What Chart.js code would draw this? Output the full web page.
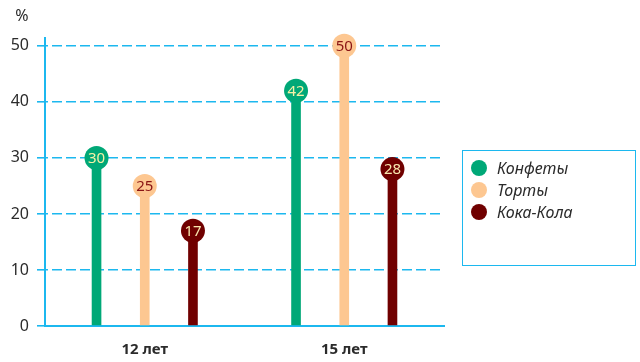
<!DOCTYPE html>
<html lang="ru">
<head>
<meta charset="utf-8">
<title>Конфеты, торты, кока-кола</title>
<script src="https://cdn.jsdelivr.net/npm/chart.js@4/dist/chart.umd.min.js"></script>
<style>
  html, body { margin: 0; padding: 0; background: #fff; }
  #wrap { position: relative; width: 640px; height: 362px; }
  #legend {
    position: absolute; left: 462px; top: 150px;
    width: 174px; height: 116px;
    border: 1.5px solid #1cb8ef;
    padding: 6px 0 0 8px; box-sizing: border-box;
    font-family: "Noto Sans", sans-serif; font-style: italic;
    font-size: 16px; color: #2b2b2b;
  }
  #legend .row { height: 22px; display: flex; align-items: center; }
  #legend .dot { width: 16px; height: 16px; border-radius: 50%; margin-right: 10px; }
</style>
</head>
<body>
<div id="wrap">
  <canvas id="chart" width="640" height="362"></canvas>
  <div id="legend"></div>
</div>
<script>
  const categories = ['12 лет', '15 лет'];
  const seriesNames = ['Конфеты', 'Торты', 'Кока-Кола'];
  const candyValues = [30, 42];
  const cakeValues = [25, 50];
  const colaValues = [17, 28];
  const yTicks = [0, 10, 20, 30, 40, 50];

  const seriesColors = ['#00a877', '#fdc791', '#700000'];
  const headTextColors = ['#f6f1a6', '#8a1414', '#f8e7ae'];
  const axisBlue = '#1cb8ef';
  const fontFamily = '"Noto Sans", sans-serif';

  // round heads with the value written inside, on top of each stem
  const headsPlugin = {
    id: 'heads',
    afterDatasetsDraw(chart) {
      const ctx = chart.ctx;
      chart.data.datasets.forEach(function (ds, i) {
        chart.getDatasetMeta(i).data.forEach(function (bar, j) {
          ctx.save();
          ctx.beginPath();
          ctx.arc(bar.x, bar.y, 12, 0, Math.PI * 2);
          ctx.fillStyle = seriesColors[i];
          ctx.fill();
          ctx.fillStyle = headTextColors[i];
          ctx.font = '15px ' + fontFamily;
          ctx.textAlign = 'center';
          ctx.textBaseline = 'middle';
          ctx.fillText(String(ds.data[j]), bar.x, bar.y + 1);
          ctx.restore();
        });
      });
    },
    afterDraw(chart) {
      const ctx = chart.ctx;
      const y = chart.scales.y;
      ctx.save();
      ctx.fillStyle = '#2b2b2b';
      ctx.font = '16px ' + fontFamily;
      ctx.textAlign = 'center';
      ctx.textBaseline = 'middle';
      ctx.fillText('%', y.right - 23, 16);
      ctx.restore();
    }
  };

  const datasets = [candyValues, cakeValues, colaValues].map(function (values, i) {
    return {
      label: seriesNames[i],
      data: values,
      backgroundColor: seriesColors[i],
      borderWidth: 0,
      categoryPercentage: 0.725,
      barPercentage: 0.2
    };
  });

  new Chart(document.getElementById('chart'), {
    type: 'bar',
    data: { labels: categories, datasets: datasets },
    plugins: [headsPlugin],
    options: {
      responsive: false,
      animation: false,
      layout: { padding: { left: 0, right: 196, top: 38, bottom: 0 } },
      plugins: { legend: { display: false }, tooltip: { enabled: false } },
      scales: {
        x: {
          grid: { display: false, drawTicks: false },
          border: { color: axisBlue, width: 2 },
          ticks: {
            color: '#2b2b2b',
            padding: 15,
            font: { family: fontFamily, size: 15, weight: 'bold' }
          },
          afterFit(scale) { scale.height = 36; }
        },
        y: {
          min: 0,
          max: 51.4,
          afterBuildTicks(scale) {
            scale.ticks = yTicks.map(function (v) { return { value: v }; });
          },
          grid: {
            color: axisBlue,
            lineWidth: 1.6,
            tickLength: 8,
            tickBorderDash: [],
            tickWidth: 1.6
          },
          border: { color: axisBlue, width: 2, dash: [10, 4], dashOffset: -6 },
          ticks: {
            color: '#2b2b2b',
            padding: 8,
            font: { family: fontFamily, size: 16 }
          },
          afterFit(scale) { scale.width = 45; }
        }
      }
    }
  });

  const legend = document.getElementById('legend');
  seriesNames.forEach(function (name, i) {
    const row = document.createElement('div');
    row.className = 'row';
    const dot = document.createElement('span');
    dot.className = 'dot';
    dot.style.background = seriesColors[i];
    const text = document.createElement('span');
    text.textContent = name;
    row.appendChild(dot);
    row.appendChild(text);
    legend.appendChild(row);
  });
</script>
</body>
</html>
